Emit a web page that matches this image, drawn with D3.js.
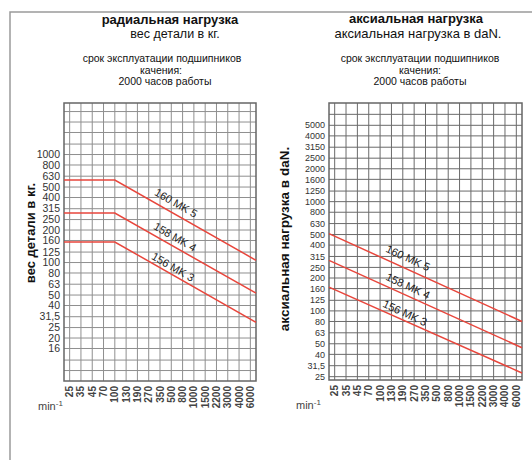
<!DOCTYPE html>
<html><head><meta charset="utf-8">
<script src="https://cdn.jsdelivr.net/npm/d3@7"></script>
<style>body{margin:0;background:#fff}svg{display:block}text{font-family:"Liberation Sans",Arial,sans-serif}</style>
</head><body>
<script>
// ---- data ----
const xCategories = ["25","35","45","70","100","130","190","270","350","500","800","1000","1500","2200","3000","4000","6000"];
const radialTicks = [1000,800,630,500,400,315,250,200,160,125,100,80,63,50,40,31.5,25,20,16];
const radialGrid = [10,12.5,16,20,25,31.5,40,50,63,80,100,125,160,200,250,315,400,500,630,800,1000,1250,1600,2000,2500];
const axialTicks = [5000,4000,3150,2500,2000,1600,1250,1000,800,630,500,400,315,250,200,160,125,100,80,63,50,40,31.5,25];
const axialGrid = [25,31.5,40,50,63,80,100,125,160,200,250,315,400,500,630,800,1000,1250,1600,2000,2500,3150,4000,5000,6300];
// line x positions as category index (-0.5 = left edge, 16.5 = right edge)
const radialX = [-0.5, 4, 16.5];
const radialSeries = [
  {name:"160 MK 5", values:[580, 580, 105]},
  {name:"158 MK 4", values:[287, 287, 52]},
  {name:"156 MK 3", values:[155, 155, 28]}
];
const axialX = [-0.5, 16.5];
const axialSeries = [
  {name:"160 MK 5", values:[510, 80]},
  {name:"158 MK 4", values:[290, 46]},
  {name:"156 MK 3", values:[165, 27]}
];

const W = 532, H = 460;
const svg = d3.select("body").append("svg").attr("width", W).attr("height", H);
svg.append("rect").attr("width", W).attr("height", H).attr("fill", "#fff");
// frame
svg.append("path").attr("d", `M10,${H} L10,12 L${W},12`).attr("fill","none").attr("stroke","#9a9a9a").attr("stroke-width",1.5);

function panel(opt) {
  const g = svg.append("g");
  const x = d3.scaleLinear().domain([-0.5, xCategories.length - 0.5]).range([opt.left, opt.right]);
  const y = d3.scaleLog().domain(opt.yDomain).range([opt.bottom, opt.top]);
  // grid
  g.append("g").selectAll("line.v").data(xCategories).join("line")
    .attr("x1", (d,i) => x(i)).attr("x2", (d,i) => x(i))
    .attr("y1", opt.top).attr("y2", opt.bottom)
    .attr("stroke", opt.gridColor).attr("stroke-width", 1);
  g.append("g").selectAll("line.h").data(opt.grid).join("line")
    .attr("x1", opt.left).attr("x2", opt.right)
    .attr("y1", d => y(d)).attr("y2", d => y(d))
    .attr("stroke", opt.gridColor).attr("stroke-width", 1);
  g.append("rect").attr("x", opt.left).attr("y", opt.top)
    .attr("width", opt.right - opt.left).attr("height", opt.bottom - opt.top)
    .attr("fill","none").attr("stroke","#666").attr("stroke-width",1.5);
  // y ticks
  g.append("g").selectAll("text").data(opt.ticks).join("text")
    .attr("x", opt.left - 4).attr("y", d => y(d)).attr("dy","0.35em")
    .attr("text-anchor","end").attr("font-size", opt.yFont).attr("fill","#333")
    .text(d => String(d).replace(".", ","));
  // x ticks
  g.append("g").selectAll("text").data(xCategories).join("text")
    .attr("transform", (d,i) => `translate(${x(i)},${opt.bottom + 5}) rotate(-90)`)
    .attr("dy","0.35em").attr("text-anchor","end").attr("font-size", 10).attr("font-weight","bold").attr("fill","#444")
    .text(d => d);
  // min-1
  const m = g.append("text").attr("x", opt.minX).attr("y", opt.bottom + 29).attr("font-size", 11).attr("fill","#444");
  m.append("tspan").text("min");
  m.append("tspan").attr("dy", -4).attr("font-size", 8).text("-1");
  // lines
  const line = d3.line().x(d => x(d[0])).y(d => y(d[1]));
  opt.series.forEach(s => {
    g.append("path").datum(opt.xs.map((xx, i) => [xx, s.values[i]]))
      .attr("d", line).attr("fill","none").attr("stroke","#e8463c").attr("stroke-width",1.5);
  });
  // series labels
  opt.series.forEach((s, i) => {
    const p = opt.labelPos[i];
    g.append("text").attr("transform", `translate(${p[0]},${p[1]}) rotate(${opt.labelAngle})`)
      .attr("text-anchor","middle").attr("dy","0.35em").attr("font-size", 11).attr("fill","#222").text(s.name);
  });
  // y title
  g.append("text").attr("transform", `translate(${opt.yTitleX},${opt.yTitleY}) rotate(-90)`)
    .attr("text-anchor","middle").attr("font-size", opt.yTitleSize).attr("font-weight","bold").attr("fill","#111")
    .text(opt.yTitle);
  // titles
  opt.titles.forEach(t => {
    g.append("text").attr("x", t.x).attr("y", t.y).attr("text-anchor","middle")
      .attr("font-size", t.size).attr("font-weight", t.bold ? "bold" : "normal").attr("fill","#111").text(t.text);
  });
}

panel({
  left: 64, right: 256, top: 103, bottom: 381, yDomain: [8, 3000],
  grid: radialGrid, ticks: radialTicks, gridColor: "#8f8f8f", yFont: 10.5,
  series: radialSeries, xs: radialX, minX: 38,
  labelPos: [[176, 203], [175, 237], [173, 267]], labelAngle: 30,
  yTitle: "вес детали в кг.", yTitleX: 35, yTitleY: 233, yTitleSize: 13,
  titles: [
    {text:"радиальная нагрузка", x:170, y:24, size:13, bold:true},
    {text:"вес детали в кг.", x:175, y:38, size:12.5, bold:false},
    {text:"срок эксплуатации подшипников", x:162, y:62, size:10.5, bold:false},
    {text:"качения:", x:161, y:73.5, size:10.5, bold:false},
    {text:"2000 часов работы", x:165, y:85, size:10.5, bold:false}
  ]
});
panel({
  left: 329, right: 522, top: 103, bottom: 380, yDomain: [23.3, 8000],
  grid: axialGrid, ticks: axialTicks, gridColor: "#6a6a6a", yFont: 9,
  series: axialSeries, xs: axialX, minX: 296,
  labelPos: [[408, 258], [408, 286], [405, 313]], labelAngle: 25,
  yTitle: "аксиальная нагрузка в daN.", yTitleX: 289, yTitleY: 239, yTitleSize: 13.5,
  titles: [
    {text:"аксиальная нагрузка", x:416, y:23, size:13, bold:true},
    {text:"аксиальная нагрузка в daN.", x:418, y:38, size:13, bold:false},
    {text:"срок эксплуатации подшипников", x:420, y:62, size:10.5, bold:false},
    {text:"качения:", x:420, y:73.5, size:10.5, bold:false},
    {text:"2000 часов работы", x:420, y:85, size:10.5, bold:false}
  ]
});
</script>
</body></html>
